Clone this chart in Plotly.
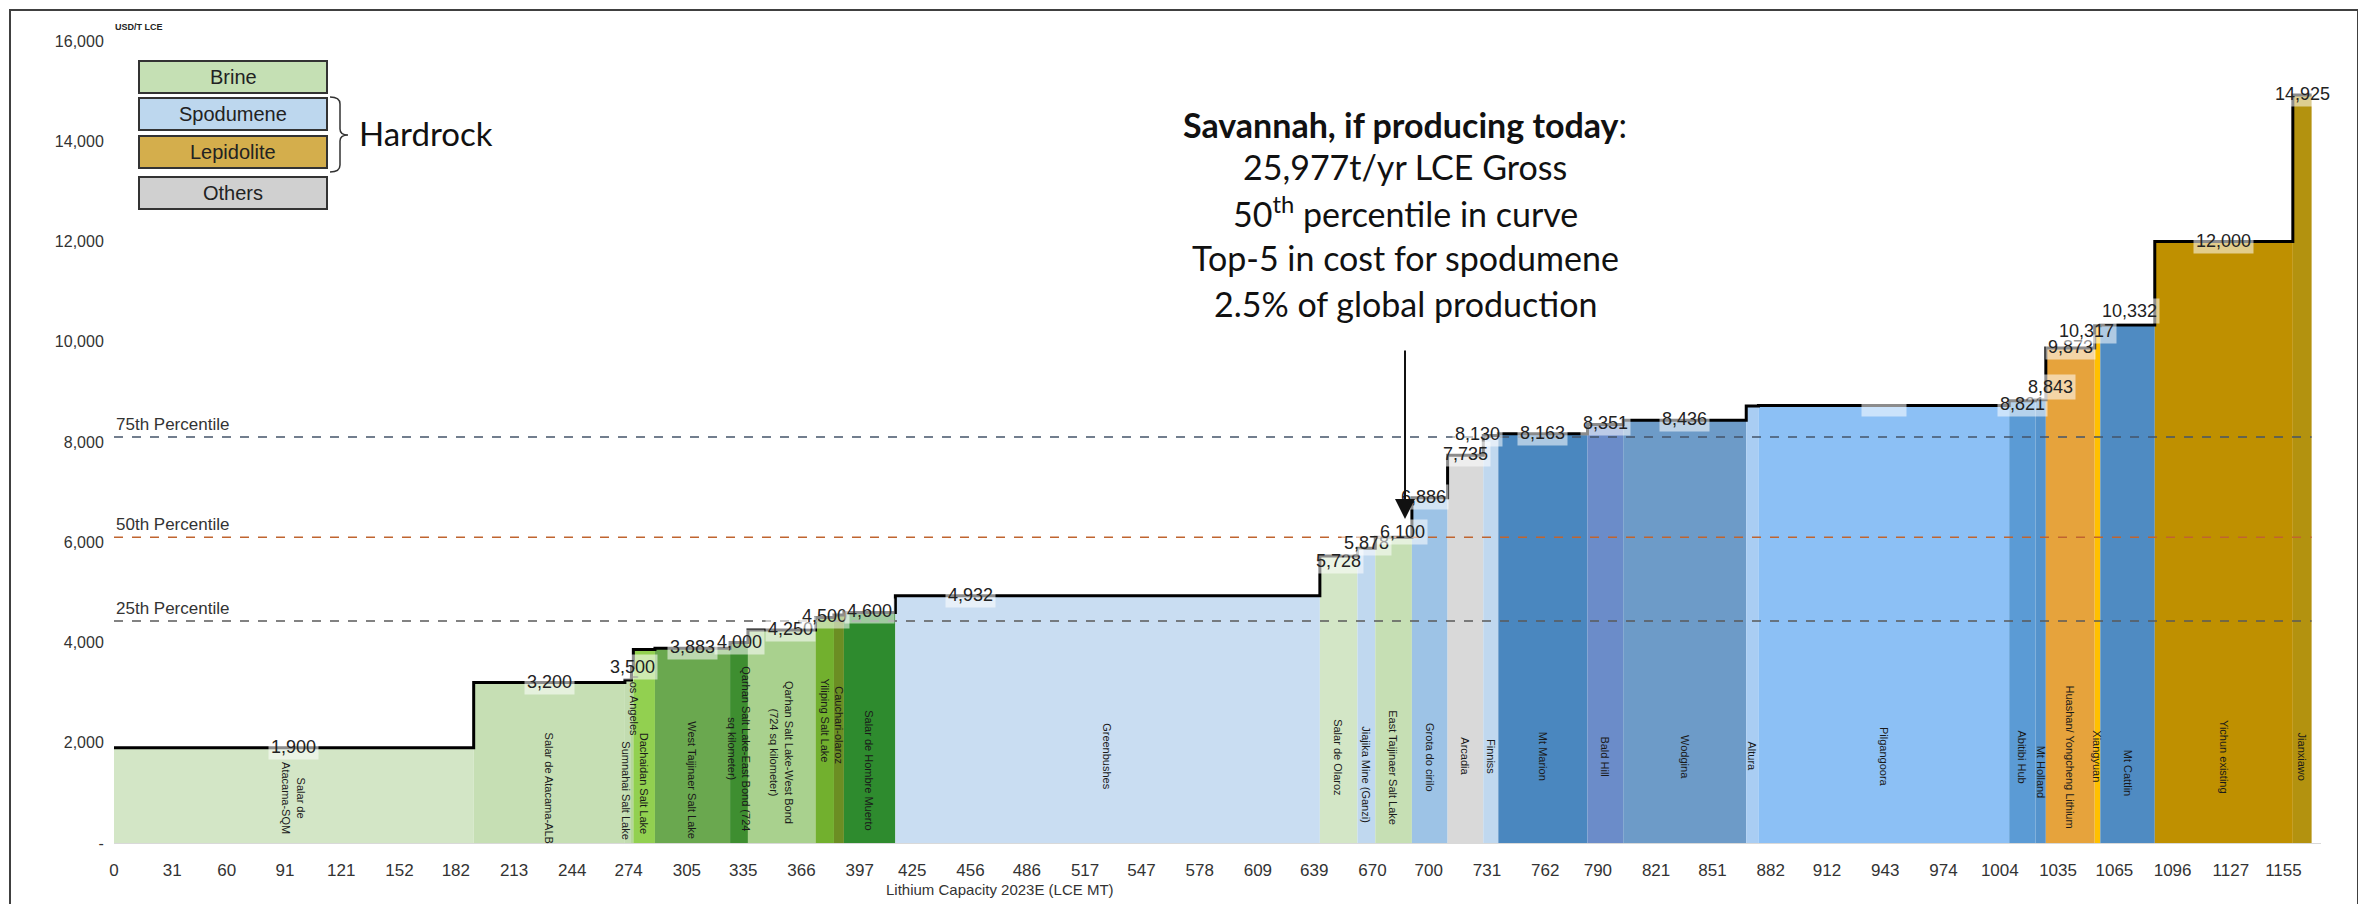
import numpy as np
import plotly.graph_objects as go

# ---------------- DATA ----------------
names = [
    "Salar de<br>Atacama-SQM", "Salar de Atacama-ALB", "Sumnahai Salt Lake", "Los Angeles",
    "Dachaidan Salt Lake", "West Taijinaer Salt Lake",
    "Qarhan Salt Lake-East Bond (724<br>sq kilometer)", "Qarhan Salt Lake-West Bond<br>(724 sq kilometer)",
    "Yiliping Salt Lake", "Cauchari-olaroz", "Salar de Hombre Muerto", "Greenbushes",
    "Salar de Olaroz", "Jiajika Mine (Ganzi)", "East Taijinaer Salt Lake", "Grota do cirilo",
    "Arcadia", "Finniss", "Mt Marion", "Bald Hill", "Wodgina", "Altura", "Pilgangoora",
    "Abitibi Hub", "Mt Holland", "Huashan/ Yongcheng Lithium", "Xiangyuan", "Mt Cattlin",
    "Yichun existing", "Jianxiawo",
]
capacity = [191.5, 80.5, 3.5, 1.0, 11.5, 40.0, 9.5, 36.0, 9.8, 5.3, 27.4, 226.0,
            20.0, 9.5, 19.5, 19.0, 19.0, 8.0, 47.5, 19.0, 65.5, 6.5, 133.5,
            14.0, 5.5, 26.0, 3.0, 29.0, 73.5, 10.0]
cost = [1900, 3200, 3250, 3500, 3860, 3883, 4000, 4250, 4500, 4550, 4600, 4932,
        5728, 5878, 6100, 6886, 7735, 8130, 8163, 8351, 8436, 8720, 8730,
        8821, 8843, 9873, 10317, 10332, 12000, 14925]
show_value = [True, True, False, True, False, True, True, True, True, False, True, True,
              True, True, True, True, True, True, True, True, True, False, None,
              True, True, True, True, True, True, True]
colors = ["#D3E6C6", "#C6DFB4", "#C2DCB0", "#B5D69C", "#92D050", "#6AA84F", "#3E8E30", "#A9D18E",
          "#72B02E", "#6B8E23", "#2E8B2E", "#C9DDF2",
          "#D3E6C6", "#C0D8EF", "#C6DFB4", "#9DC3E6", "#D9D9D9", "#C0D8EF", "#4A87BF",
          "#6B8CC9", "#6D9BC8", "#A9CDF3", "#8CC0F5", "#5B9BD5", "#5593CC", "#E6A33C",
          "#FFC000", "#4F8BC2", "#BF9000", "#B3920F"]

x_ticks = [0, 31, 60, 91, 121, 152, 182, 213, 244, 274, 305, 335, 366, 397, 425, 456, 486,
           517, 547, 578, 609, 639, 670, 700, 731, 762, 790, 821, 851, 882, 912, 943, 974,
           1004, 1035, 1065, 1096, 1127, 1155]
y_ticks = [0, 2000, 4000, 6000, 8000, 10000, 12000, 14000, 16000]
y_tick_text = ["-", "2,000", "4,000", "6,000", "8,000", "10,000", "12,000", "14,000", "16,000"]

percentile_names = ["75th Percentile", "50th Percentile", "25th Percentile"]
percentile_values = [8100, 6100, 4430]
percentile_colors = ["#44546A", "#C0642F", "#595959"]

legend_labels = ["Brine", "Spodumene", "Lepidolite", "Others"]
legend_colors = ["#C5E0B4", "#BDD7EE", "#D4AE4C", "#D0D0D0"]

savannah_lines = [
    "<b>Savannah, if producing today</b>:",
    "25,977t/yr LCE Gross",
    "50<sup>th</sup> percentile in curve",
    "Top-5 in cost for spodumene",
    "2.5% of global production",
]

# ---------------- LAYOUT HELPERS ----------------
W, H = 2366, 904
ML, MR, MT, MB = 106, 53, 33, 69
PW, PH = W - ML - MR, H - MT - MB
OFF = 8  # page body margin of the html page


def fx(px):
    return (px - OFF - ML) / PW


def fy(py):
    return (H - MB - (py - OFF)) / PH


cap = np.array(capacity, dtype=float)
right = np.cumsum(cap)
left = right - cap
center = (left + right) / 2

name_y_default = 1720
name_y_override = {0: 900, 1: 1100, 2: 1050, 3: 2750, 4: 1180, 5: 1260, 6: 1890, 7: 1800,
                   8: 2450, 9: 2350, 10: 1460, 13: 1365, 14: 1500, 24: 1410, 27: 1410}
name_x_override = {2: 272.6, 3: 276.6}
value_x_override = {7: 360, 11: 456, 14: 686, 15: 697, 17: 726, 24: 1031, 26: 1050, 27: 1073}
value_yshift = {12: -6, 13: 4, 14: 4, 23: -4, 24: 12, 26: -6, 27: 13}

fig = go.Figure()

fig.add_trace(go.Bar(
    x=center, y=cost, width=cap, marker=dict(color=colors, line=dict(width=0)),
    hoverinfo="skip", showlegend=False,
))

fig.add_trace(go.Scatter(
    x=list(left) + [right[-1]], y=list(cost) + [cost[-1]], mode="lines",
    line=dict(color="black", width=3, shape="hv"), hoverinfo="skip", showlegend=False,
))

shapes = []
annotations = []
NARROW = "Liberation Sans Narrow, Arial Narrow, Liberation Sans, Arial"
SANS = "Liberation Sans, Arial"
CAL = "Lato, Open Sans, sans-serif"

# percentile lines
for pname, pval, pcol in zip(percentile_names, percentile_values, percentile_colors):
    shapes.append(dict(type="line", xref="x", yref="y", x0=0, x1=right[-1], y0=pval, y1=pval,
                       line=dict(color=pcol, width=1.5, dash="dash"), layer="above"))
    annotations.append(dict(xref="x", yref="y", x=0, y=pval, text=pname, showarrow=False,
                            xanchor="left", yanchor="bottom", yshift=1,
                            font=dict(family=NARROW, size=17, color="#333333")))

# bar names (rotated)
for i, nm in enumerate(names):
    annotations.append(dict(xref="x", yref="y", x=name_x_override.get(i, center[i]),
                            y=name_y_override.get(i, name_y_default),
                            text=nm, textangle=90, showarrow=False,
                            xanchor="center", yanchor="middle",
                            font=dict(family=SANS, size=11, color="#1a1a1a")))

# value labels
for i, v in enumerate(cost):
    sv = show_value[i]
    if sv is False:
        continue
    txt = f"{v:,}" if sv else "&nbsp;&nbsp;&nbsp;&nbsp;&nbsp;&nbsp;&nbsp;&nbsp;"
    annotations.append(dict(xref="x", yref="y", x=value_x_override.get(i, center[i]), y=v,
                            text=txt, showarrow=False, bgcolor="rgba(255,255,255,0.55)",
                            borderpad=2, yshift=1 + value_yshift.get(i, 0),
                            xanchor="center", yanchor="middle",
                            font=dict(family=SANS, size=18, color="#222222")))

# frame
shapes.append(dict(type="rect", xref="paper", yref="paper", x0=fx(10), x1=fx(2358), y0=fy(915), y1=fy(10),
                   line=dict(color="#404040", width=2), fillcolor="rgba(0,0,0,0)", layer="below"))

# legend boxes
box_tops = [61, 98, 136, 177]
box_h = 32
for lab, col, top in zip(legend_labels, legend_colors, box_tops):
    shapes.append(dict(type="rect", xref="paper", yref="paper", x0=fx(139), x1=fx(327),
                       y0=fy(top + box_h), y1=fy(top), fillcolor=col,
                       line=dict(color="#333333", width=2), layer="above"))
    annotations.append(dict(xref="paper", yref="paper", x=fx(233), y=fy(top + box_h / 2), text=lab,
                            showarrow=False, xanchor="center", yanchor="middle",
                            font=dict(family=SANS, size=20, color="#222222")))

# brace + Hardrock
pts = lambda a, b: f"{fx(a)},{fy(b)}"
brace = (f"M {pts(330, 97)} Q {pts(340, 97)} {pts(340, 104)} L {pts(340, 129)} "
         f"Q {pts(340, 135)} {pts(348, 135)} Q {pts(340, 135)} {pts(340, 141)} "
         f"L {pts(340, 165)} Q {pts(340, 172)} {pts(330, 172)}")
shapes.append(dict(type="path", xref="paper", yref="paper", path=brace,
                   line=dict(color="#333333", width=1.5)))
annotations.append(dict(xref="paper", yref="paper", x=fx(357), y=fy(133), text="Hardrock",
                        xanchor="left", yanchor="middle", showarrow=False,
                        font=dict(family=CAL, size=33, color="#111111")))

# unit label
annotations.append(dict(xref="paper", yref="paper", x=fx(113), y=fy(27), text="<b>USD/T LCE</b>",
                        xanchor="left", yanchor="middle", showarrow=False,
                        font=dict(family=SANS, size=9, color="#222222")))

# Savannah text
line_ys = [124, 166, 212, 258, 304]
for t, ly in zip(savannah_lines, line_ys):
    annotations.append(dict(xref="paper", yref="paper", x=fx(1405), y=fy(ly), text=t,
                            showarrow=False, xanchor="center", yanchor="middle",
                            font=dict(family=CAL, size=34, color="#111111")))

# arrow
annotations.append(dict(xref="paper", yref="paper", x=fx(1405), y=fy(519), ax=0, ay=-170,
                        axref="pixel", ayref="pixel", text="", showarrow=True,
                        arrowhead=2, arrowsize=2, arrowwidth=2, arrowcolor="#111111"))

# x axis title
annotations.append(dict(xref="paper", yref="paper", x=fx(1000), y=fy(889),
                        text="Lithium Capacity 2023E (LCE MT)", showarrow=False,
                        xanchor="center", yanchor="middle",
                        font=dict(family=NARROW, size=15, color="#333333")))

fig.update_layout(
    width=W, height=H, margin=dict(l=ML, r=MR, t=MT, b=MB),
    paper_bgcolor="white", plot_bgcolor="white", showlegend=False,
    shapes=shapes, annotations=annotations,
    xaxis=dict(range=[0, 1175], tickmode="array", tickvals=x_ticks, ticktext=[str(v) for v in x_ticks],
               showgrid=False, zeroline=False, showline=True, linecolor="#D9D9D9", linewidth=1,
               ticks="outside", ticklen=12, tickcolor="rgba(0,0,0,0)",
               tickfont=dict(family=NARROW, size=17, color="#333333")),
    yaxis=dict(range=[0, 16000], tickmode="array", tickvals=y_ticks, ticktext=y_tick_text,
               showgrid=False, zeroline=False, showline=False,
               ticks="outside", ticklen=6, tickcolor="rgba(0,0,0,0)",
               tickfont=dict(family=NARROW, size=16, color="#333333")),
)

fig.write_html("out.html")
